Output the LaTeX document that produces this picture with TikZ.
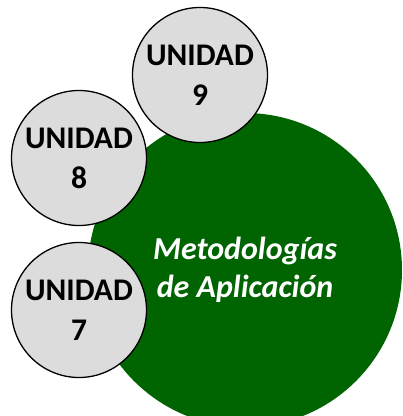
\documentclass[tikz,border=0pt]{standalone}
\usepackage{fontspec}
\setmainfont{Carlito}
\definecolor{unitgray}{RGB}{220,220,220}
\definecolor{biggreen}{RGB}{0,100,0}
\begin{document}
\begin{tikzpicture}[x=1pt,y=1pt,
  unit/.style={circle,draw=black,line width=1.3pt,fill=unitgray,minimum size=135pt,inner sep=0pt,
    align=center,font=\fontsize{31.5}{40}\selectfont\bfseries},
  core/.style={circle,fill=biggreen,minimum size=314pt,inner sep=0pt,align=center,
    text=white,font=\fontsize{32}{38}\selectfont\bfseries\itshape}]
\useasboundingbox (0,0) rectangle (403,416);
\clip (0,0) rectangle (403,416);
\node[core] (meta) at (245,146) {Metodologías\\de Aplicación};
\node[unit] (u9) at (200,341) {UNIDAD\\9};
\node[unit] (u8) at (79,258) {UNIDAD\\8};
\node[unit] (u7) at (79,106) {UNIDAD\\7};
\end{tikzpicture}
\end{document}
